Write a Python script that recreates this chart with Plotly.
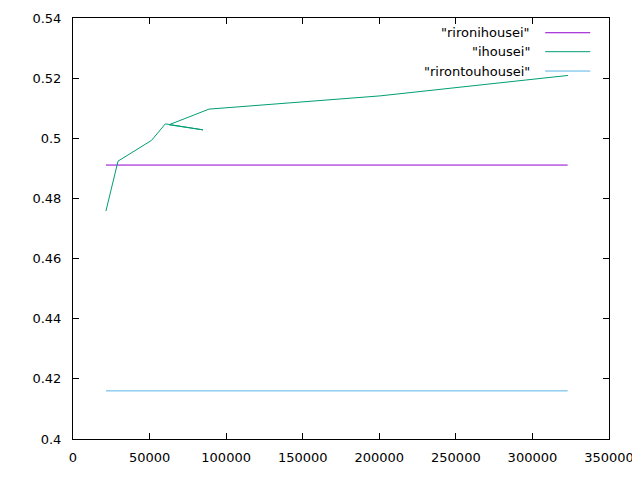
import plotly.graph_objects as go

# ---- data ----
rironihousei_x = [21500, 323000]
rironihousei_y = [0.4911, 0.4911]

ihousei_x = [21500, 29400, 51300, 60300, 84900, 62700, 88800, 200500, 323200]
ihousei_y = [0.4758, 0.4924, 0.4993, 0.5048, 0.5028, 0.5045, 0.5097, 0.5141, 0.5209]

rirontouhousei_x = [21500, 323000]
rirontouhousei_y = [0.4160, 0.4160]

series_names = ['"rironihousei"', '"ihousei"', '"rirontouhousei"']
series_colors = ["#9400d3", "#009e73", "#56b4e9"]

x_range = [0, 350000]
y_range = [0.4, 0.54]

FONT = dict(family="DejaVu Sans", size=13, color="black")

fig = go.Figure()
for xs, ys, name, col in zip(
    [rironihousei_x, ihousei_x, rirontouhousei_x],
    [rironihousei_y, ihousei_y, rirontouhousei_y],
    series_names, series_colors):
    fig.add_trace(go.Scatter(x=xs, y=ys, mode="lines", name=name,
                             line=dict(color=col, width=1), showlegend=False))

# manual gnuplot-style legend: text right-aligned, sample line on the right
legend_rows_y = [0.965, 0.920, 0.874]
for name, col, ly in zip(series_names, series_colors, legend_rows_y):
    fig.add_annotation(x=0.856, y=ly, xref="paper", yref="paper", text=name,
                       showarrow=False, xanchor="right", yanchor="middle",
                       font=FONT)
    fig.add_shape(type="line", xref="paper", yref="paper",
                  x0=0.881, x1=0.965, y0=ly, y1=ly,
                  line=dict(color=col, width=1))

axis_common = dict(showline=True, mirror="ticks", linecolor="black", linewidth=1,
                   ticks="inside", ticklen=6, tickcolor="black", tickwidth=1,
                   showgrid=False, zeroline=False, tickfont=FONT, automargin=False)

fig.update_layout(
    width=640, height=480,
    margin=dict(l=65, r=39, t=10, b=49, autoexpand=False),
    paper_bgcolor="white", plot_bgcolor="white",
    xaxis=dict(range=x_range, dtick=50000, tick0=0, tickformat="d",
               ticklabelstandoff=6, **axis_common),
    yaxis=dict(range=y_range, dtick=0.02, tick0=0.4,
               ticklabelstandoff=8, **axis_common),
)

fig.write_html("out.html")
